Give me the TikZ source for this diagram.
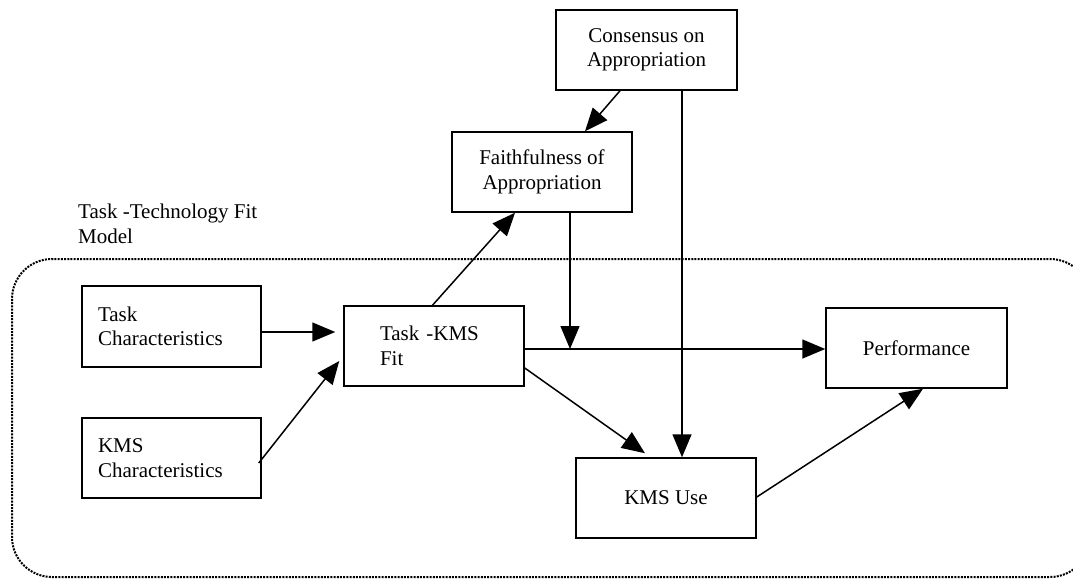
\documentclass[tikz,border=0pt]{standalone}
\usepackage{fontspec}
\setmainfont{Liberation Serif}
\usetikzlibrary{arrows.meta,calc}
\tikzset{
  box/.style={draw, line width=1.5pt, inner sep=0pt, font=\fontsize{21}{24.5}\selectfont},
  lbox/.style={box, align=left},
  cbox/.style={box, align=center},
  arr/.style={line width=1.5pt, -{Triangle[length=23pt,width=19pt]}},
  border/.style={line width=2pt, dash pattern=on 2pt off 1.2pt, rounded corners=40pt, black},
  lbl/.style={font=\fontsize{21}{24.5}\selectfont, align=left, inner sep=0pt}
}
\begin{document}
\begin{tikzpicture}[x=1pt,y=-1pt]
\useasboundingbox (0,0) rectangle (1073,579);
\clip (0,0) rectangle (1073,579);
\draw[border] (12,259) rectangle (1090,577);
\node[lbl, anchor=north west] (tm) at (78,204) {Task -Technology Fit\\Model};

\node[cbox, minimum width=181pt, minimum height=80pt] (cons) at (646.5,50) {Consensus on\\Appropriation};
\node[cbox, minimum width=180pt, minimum height=80pt] (faith) at (542,172) {Faithfulness of\\Appropriation};
\node[lbox, minimum width=179pt, minimum height=81pt, text width=147pt, inner xsep=16pt] (tc) at (171.5,326.5) {Task\\Characteristics};
\node[lbox, minimum width=179pt, minimum height=80pt, text width=147pt, inner xsep=16pt] (kc) at (171.5,458) {KMS\\Characteristics};
\node[lbox, minimum width=180pt, minimum height=80pt, text width=108pt, inner xsep=36pt] (tk) at (434,346) {Task -KMS\\Fit};
\node[cbox, minimum width=181pt, minimum height=80pt] (perf) at (916.5,348) {Performance};
\node[cbox, minimum width=180pt, minimum height=80pt] (use) at (666,498) {KMS Use};

\coordinate (j) at (570,349);

\draw[arr] ([yshift=-5.5pt]tc.east) -- ([xshift=-8pt,yshift=14pt]tk.west);
\draw[arr] ([xshift=-3pt,yshift=-5pt]kc.east) -- ([xshift=-4pt,yshift=-15pt]tk.west);
\draw[arr] ([xshift=-1.5pt]tk.north) -- ([xshift=-27pt]faith.south);
\draw[arr] ([xshift=-26.5pt]cons.south) -- ([xshift=43pt]faith.north);
\draw[arr] ([xshift=28pt]faith.south) -- (j);
\draw[arr] (tk.east |- j) -- (perf.west |- j);
\draw[arr] ([yshift=-22pt]tk.east) -- ([xshift=-21pt,yshift=4pt]use.north);
\draw[arr] ([xshift=35.5pt]cons.south) -- ([xshift=16pt]use.north);
\draw[arr] ([yshift=1pt]use.east) -- ([xshift=6.5pt]perf.south);
\end{tikzpicture}
\end{document}
